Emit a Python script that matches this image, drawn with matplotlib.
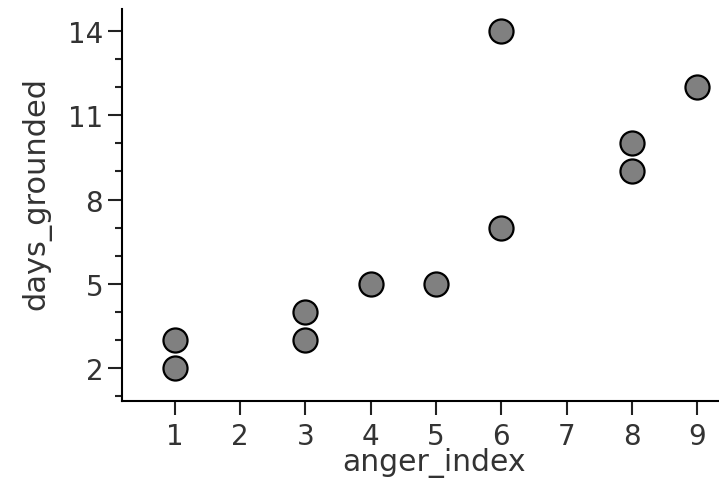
import matplotlib
matplotlib.use('Agg')
import matplotlib.pyplot as plt
from matplotlib.ticker import MultipleLocator

# data
anger_index = [1, 1, 3, 3, 4, 5, 6, 6, 8, 8, 9]
days_grounded = [3, 2, 4, 3, 5, 5, 14, 7, 10, 9, 12]

plt.rcParams['font.family'] = ['DejaVu Sans']

fig = plt.figure(figsize=(7.19, 4.85), dpi=100)
ax = fig.add_axes([122 / 719, 83 / 485, 597 / 719, 392 / 485])

ax.scatter(anger_index, days_grounded, s=300, facecolor='#808080',
           edgecolor='black', linewidth=1.6, zorder=3, clip_on=False)

ax.set_xlim(0.188, 9.337)
ax.set_ylim(0.83, 14.78)
ax.set_xticks(range(1, 10))
ax.set_yticks([2, 5, 8, 11, 14])
ax.yaxis.set_minor_locator(MultipleLocator(1))

for s in ['top', 'right']:
    ax.spines[s].set_visible(False)
for s in ['left', 'bottom']:
    ax.spines[s].set_linewidth(1.5)

ax.tick_params(axis='both', which='major', length=10, width=1.5,
               labelsize=20, color='#222222', labelcolor='#333333')
ax.tick_params(axis='y', which='minor', length=5, width=1.5, color='#222222')
ax.tick_params(axis='x', pad=5)

ax.set_xlabel('anger_index', fontsize=21.5, color='#333333')
ax.set_ylabel('days_grounded', fontsize=22, color='#333333', labelpad=12)
ax.xaxis.set_label_coords(0.523, -0.118)
ax.yaxis.label.set_y(0.533)

fig.savefig('out.png', dpi=100)
